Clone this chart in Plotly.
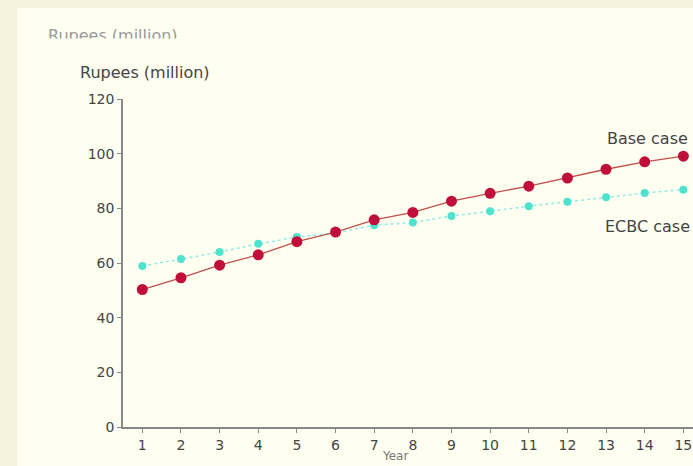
import plotly.graph_objects as go

years = list(range(1, 16))
base_case = [50.3, 54.6, 59.2, 63.0, 67.8, 71.3, 75.8, 78.5, 82.6, 85.5, 88.1, 91.1, 94.3, 97.0, 99.1]
ecbc_case = [58.9, 61.5, 64.0, 67.0, 69.5, 71.0, 73.8, 74.8, 77.2, 78.9, 80.8, 82.4, 84.1, 85.6, 86.8]
y_ticks = [0, 20, 40, 60, 80, 100, 120]

W, H = 693, 466
L, R, T, B = 123, 0, 99, 39
pw, ph = W - L - R, H - T - B

def px(xp):
    return (xp - L) / pw

def py(yp):
    return (H - B - yp) / ph

fig = go.Figure()
fig.add_trace(go.Scatter(
    x=years, y=ecbc_case, mode="lines+markers", name="ECBC case",
    line=dict(color="rgba(120,230,225,0.8)", width=1.5, dash="dot"),
    marker=dict(color="#4fe3cf", size=8, symbol="circle"),
))
fig.add_trace(go.Scatter(
    x=years, y=base_case, mode="lines+markers", name="Base case",
    line=dict(color="#c0504a", width=1.3),
    marker=dict(color="#c0103a", size=11, symbol="circle"),
))

font = "DejaVu Sans, Verdana, sans-serif"
fig.update_layout(
    width=W, height=H,
    margin=dict(l=L, r=R, t=T, b=B),
    paper_bgcolor="#f4f1dc",
    plot_bgcolor="rgba(0,0,0,0)",
    showlegend=False,
    font=dict(family=font, size=14, color="#444"),
    xaxis=dict(
        range=[0.5, 15.25], tickvals=years, ticktext=[str(v) for v in years],
        showgrid=False, zeroline=False, showline=True, linecolor="#888", linewidth=1.5,
        ticks="outside", ticklen=4, tickcolor="#888",
        tickfont=dict(size=14, color="#444"),
    ),
    yaxis=dict(
        range=[0, 120], tickvals=y_ticks, ticktext=[str(v) for v in y_ticks],
        showgrid=False, zeroline=False, showline=True, linecolor="#888", linewidth=1.5,
        ticks="outside", ticklen=4, tickcolor="#888",
        tickfont=dict(size=14, color="#444"),
    ),
    shapes=[dict(
        type="rect", xref="paper", yref="paper", layer="below",
        x0=px(17), x1=px(W + 10), y0=py(H + 10), y1=py(8),
        fillcolor="#fefef1", line=dict(width=0),
    )],
    annotations=[
        dict(text="Rupees (million)", xref="paper", yref="paper",
             x=px(46), y=py(36), xanchor="left", yanchor="middle", showarrow=False,
             font=dict(size=16, color="#999")),
        dict(text=" ", xref="paper", yref="paper",
             x=px(45), y=py(38), xanchor="left", yanchor="top", showarrow=False,
             width=200, height=14, bgcolor="#fefef1", borderpad=0),
        dict(text="Rupees (million)", xref="paper", yref="paper",
             x=px(78), y=py(73), xanchor="left", yanchor="middle", showarrow=False,
             font=dict(size=16, color="#444")),
        dict(text="Base case", xref="paper", yref="paper",
             x=px(690), y=py(138), xanchor="right", yanchor="middle", showarrow=False,
             font=dict(size=16, color="#444")),
        dict(text="ECBC case", xref="paper", yref="paper",
             x=px(692), y=py(226), xanchor="right", yanchor="middle", showarrow=False,
             font=dict(size=16, color="#444")),
        dict(text="Year", xref="paper", yref="paper",
             x=px(395), y=py(465), xanchor="center", yanchor="bottom", showarrow=False,
             font=dict(size=12, color="#777")),
    ],
)

fig.write_html("out.html")
